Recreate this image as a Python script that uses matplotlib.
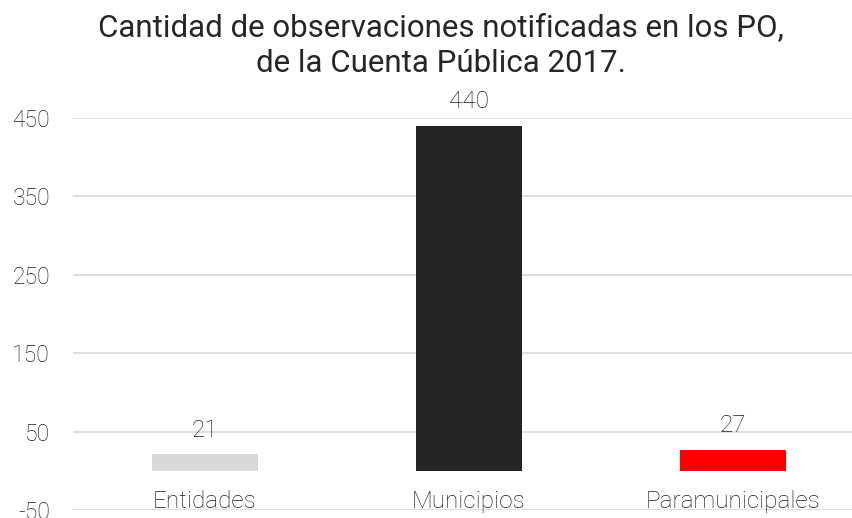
import matplotlib
matplotlib.use("Agg")
import matplotlib.pyplot as plt

# data
categorias = ["Entidades", "Municipios", "Paramunicipales"]
valores = [21, 440, 27]
colores = ["#D9D9D9", "#262626", "#FF0000"]
yticks = [-50, 50, 150, 250, 350, 450]
titulo = "Cantidad de observaciones notificadas en los PO,\nde la Cuenta Pública 2017."

plt.rcParams["font.family"] = ["Roboto", "DejaVu Sans"]
txt = "#1E1E1E"

fig = plt.figure(figsize=(8.53, 5.18), dpi=100)
ax = fig.add_axes([73 / 853, 8 / 518, 792 / 853, 392 / 518])

x = range(len(categorias))
bars = ax.bar(x, valores, width=0.4, color=colores, zorder=3)

for b, v in zip(bars, valores):
    ax.annotate(str(v), (b.get_x() + b.get_width() / 2, v), xytext=(0, 9),
                textcoords="offset points", ha="center", va="bottom",
                fontsize=17.5, fontweight="light", color=txt)

for i, c in enumerate(categorias):
    ax.annotate(c, (i, 0), xytext=(0, -14), textcoords="offset points",
                ha="center", va="top", fontsize=17.5, fontweight="light", color=txt)

ax.set_xlim(-0.5, 2.5)
ax.set_ylim(-50, 450)
ax.set_yticks(yticks)
ax.set_yticklabels([str(t) for t in yticks], fontsize=16.5, fontweight="light", color=txt)
ax.set_xticks([])
ax.tick_params(axis="y", length=0, pad=16.5)
ax.grid(axis="y", color="#D9D9D9", linewidth=1.2, zorder=0)
for s in ax.spines.values():
    s.set_visible(False)

fig.text(0.517, 0.975, titulo, ha="center", va="top", fontsize=22.5,
         color="#262626", linespacing=1.3)

fig.savefig("out.png", dpi=100)
